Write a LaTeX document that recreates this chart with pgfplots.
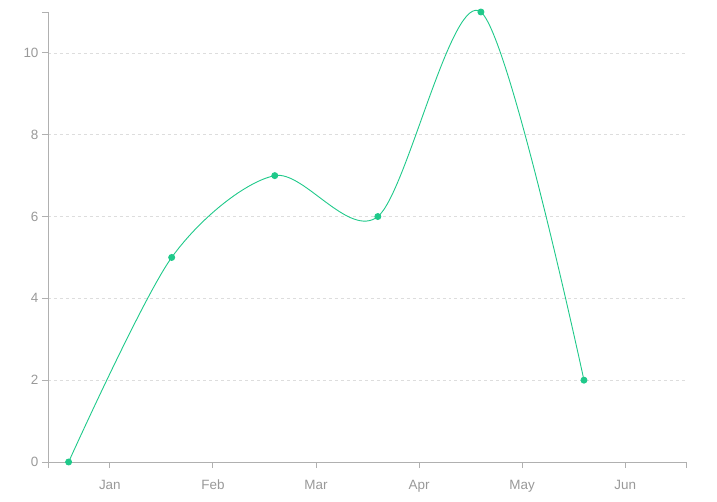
\documentclass[border=0pt]{standalone}
\usepackage{pgfplots}
\pgfplotsset{compat=1.18}
\usepackage{fontspec}
\setmainfont{Liberation Sans}
\definecolor{lineg}{HTML}{1FC98A}
\definecolor{axg}{HTML}{B0B0B0}
\definecolor{labg}{HTML}{999999}
\definecolor{gridg}{HTML}{DDDDDD}
\begin{document}
\begin{tikzpicture}[x=1bp,y=1bp]
\useasboundingbox (-48bp,-40bp) rectangle (669bp,462bp);
\begin{axis}[
  at={(0,0)}, anchor=origin,
  scale only axis, width=638bp, height=450bp,
  xmin=0, xmax=6.19, ymin=0, ymax=11,
  axis x line*=bottom, axis y line*=left,
  axis line style={axg, line width=0.9pt, -},
  xtick={0.6,1.6,2.6,3.6,4.6,5.6},
  xticklabels={Jan,Feb,Mar,Apr,May,Jun},
  extra x ticks={0,6.19}, extra x tick labels={},
  extra x tick style={grid=none},
  ytick={0,2,4,6,8,10},
  extra y ticks={11}, extra y tick labels={},
  extra y tick style={grid=none},
  tick align=outside,
  major tick length=6bp,
  tick style={axg, line width=0.9pt},
  ymajorgrids,
  grid style={gridg, dashed, line width=0.6pt},
  tick label style={font=\fontsize{13.5}{15}\selectfont, text=labg},
  xticklabel style={text height=10bp, text depth=3bp, yshift=-8bp},
  yticklabel style={xshift=0bp},
  /pgf/number format/assume math mode=true,
  clip=false,
]
\addplot[lineg, line width=0.9pt, smooth, tension=0.5, mark=*, mark size=3bp, mark options={fill=lineg, draw=lineg}]
  coordinates {(0.2,0) (1.2,5) (2.2,7) (3.2,6) (4.2,11) (5.2,2)};
\end{axis}
\end{tikzpicture}
\end{document}
